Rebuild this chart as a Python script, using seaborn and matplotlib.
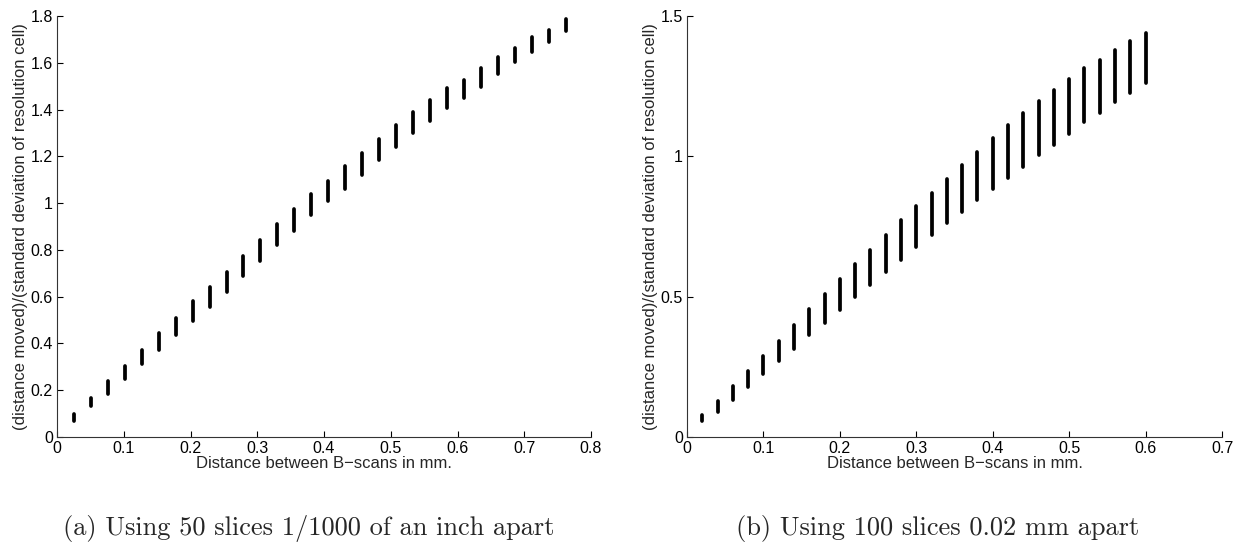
import numpy as np
import pandas as pd
import matplotlib
matplotlib.use('Agg')
import matplotlib.pyplot as plt
from matplotlib.ticker import FuncFormatter
import seaborn as sns

# (a) 50 slices, 1/1000 inch apart -> distance between B-scans in mm
dist_a = [0.0254, 0.0508, 0.0762, 0.1016, 0.1270, 0.1524, 0.1778, 0.2032, 0.2286, 0.2540,
          0.2794, 0.3048, 0.3302, 0.3556, 0.3810, 0.4064, 0.4318, 0.4572, 0.4826, 0.5080,
          0.5334, 0.5588, 0.5842, 0.6096, 0.6350, 0.6604, 0.6858, 0.7112, 0.7366, 0.7620]
low_a = [0.069, 0.132, 0.184, 0.250, 0.314, 0.371, 0.435, 0.495, 0.556, 0.620,
         0.690, 0.752, 0.820, 0.881, 0.948, 1.008, 1.062, 1.119, 1.186, 1.240,
         1.300, 1.353, 1.405, 1.451, 1.498, 1.552, 1.602, 1.645, 1.690, 1.737]
high_a = [0.099, 0.165, 0.238, 0.305, 0.373, 0.443, 0.507, 0.580, 0.640, 0.704,
          0.775, 0.842, 0.910, 0.974, 1.041, 1.096, 1.157, 1.216, 1.276, 1.333,
          1.390, 1.440, 1.491, 1.525, 1.577, 1.625, 1.662, 1.712, 1.740, 1.789]

# (b) 100 slices, 0.02 mm apart
dist_b = [0.02, 0.04, 0.06, 0.08, 0.10, 0.12, 0.14, 0.16, 0.18, 0.20,
          0.22, 0.24, 0.26, 0.28, 0.30, 0.32, 0.34, 0.36, 0.38, 0.40,
          0.42, 0.44, 0.46, 0.48, 0.50, 0.52, 0.54, 0.56, 0.58, 0.60]
low_b = [0.056, 0.089, 0.131, 0.178, 0.224, 0.270, 0.315, 0.362, 0.407, 0.451,
         0.499, 0.543, 0.588, 0.629, 0.677, 0.718, 0.762, 0.801, 0.843, 0.882,
         0.924, 0.962, 1.003, 1.042, 1.080, 1.122, 1.155, 1.193, 1.225, 1.262]
high_b = [0.078, 0.129, 0.182, 0.236, 0.289, 0.343, 0.399, 0.455, 0.509, 0.562,
          0.615, 0.666, 0.719, 0.772, 0.823, 0.871, 0.920, 0.969, 1.017, 1.066,
          1.111, 1.153, 1.197, 1.236, 1.274, 1.313, 1.345, 1.380, 1.411, 1.438]

xlabel = 'Distance between B\u2212scans in mm.'
ylabel = '(distance moved)/(standard deviation of resolution cell)'
caption_a = '(a) Using 50 slices 1/1000 of an inch apart'
caption_b = '(b) Using 100 slices 0.02 mm apart'

sns.set_style('ticks', {'xtick.direction': 'in', 'ytick.direction': 'in'})
plt.rcParams['font.family'] = ['Liberation Sans', 'DejaVu Sans']


def spread_frame(dist, low, high):
    return pd.DataFrame({
        'dist': list(dist) + list(dist),
        'ratio': list(low) + list(high),
    })


fig = plt.figure(figsize=(12.34, 5.48), dpi=100)
ax_a = fig.add_axes([57 / 1234, 111 / 548, 534 / 1234, 421 / 548])
ax_b = fig.add_axes([687 / 1234, 111 / 548, 535 / 1234, 421 / 548])

panels = [
    (ax_a, spread_frame(dist_a, low_a, high_a), 0.8, 1.8, np.arange(0, 0.81, 0.1), np.arange(0, 1.81, 0.2)),
    (ax_b, spread_frame(dist_b, low_b, high_b), 0.7, 1.5, np.arange(0, 0.71, 0.1), [0, 0.5, 1, 1.5]),
]

for ax, df, xmax, ymax, xt, yt in panels:
    # one vertical stack of points per slice spacing
    sns.lineplot(data=df, x='dist', y='ratio', units='dist', estimator=None,
                 color='black', lw=2.7, solid_capstyle='round', legend=False, ax=ax)
    ax.set_xlim(0, xmax)
    ax.set_ylim(0, ymax)
    ax.set_xticks(xt)
    ax.set_yticks(yt)
    fmt = FuncFormatter(lambda v, p: '{:g}'.format(round(v, 2)))
    ax.xaxis.set_major_formatter(fmt)
    ax.yaxis.set_major_formatter(fmt)
    ax.tick_params(length=4, width=0.8, pad=3, labelsize=11.5, colors='black')
    sns.despine(ax=ax)
    for s in ['left', 'bottom']:
        ax.spines[s].set_linewidth(0.8)
        ax.spines[s].set_color('#333333')
    ax.set_xlabel(xlabel, fontsize=12, labelpad=0)
    ax.set_ylabel(ylabel, fontsize=12, labelpad=2)

fig.text(63 / 1234, 13 / 548, caption_a, family='cmr10', fontsize=19, va='baseline')
fig.text(736 / 1234, 13 / 548, caption_b, family='cmr10', fontsize=19, va='baseline')

fig.savefig('out.png', dpi=100)
